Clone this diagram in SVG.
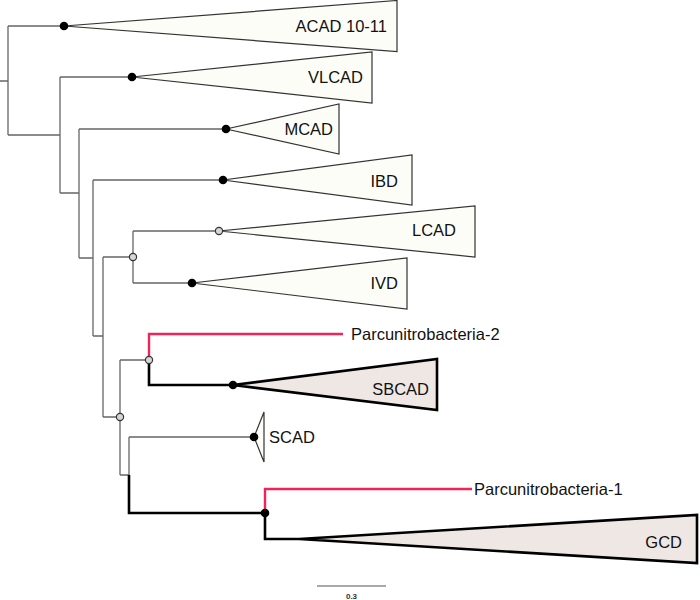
<svg xmlns="http://www.w3.org/2000/svg" width="700" height="600" viewBox="0 0 700 600">
<style>
.br{fill:none;stroke:#666;stroke-width:1.3}
.thick{fill:none;stroke:#000;stroke-width:2.6}
.red{fill:none;stroke:#f0245a;stroke-width:2.4}
.tri{fill:#fdfdf7;stroke:#333;stroke-width:1.2}
.tri2{fill:#efe7e4;stroke:#000;stroke-width:2.6;stroke-linejoin:miter}
.lab{font-family:"Liberation Sans",Arial,sans-serif;font-size:16.5px;fill:#111}
.dot{fill:#000}
.open{fill:#d6d6d6;stroke:#333;stroke-width:1.2}
</style>
<rect width="700" height="600" fill="#fff"/>
<g id="connectors">
<path class="br" d="M0,81H8M8,26V135M8,26H64M8,135H60M60,77V193M60,77H132M60,193H79M79,129V258M79,129H226M79,258H93M93,180V336M93,180H223M93,336H103M103,257V417M103,257H133M133,231V283M133,231H219M133,283H192M103,417H120M120,360V475M120,360H149M120,475H129M129,437V475M129,437H254"/>
<path class="thick" d="M129,475V513H265M149,360V385H233M265,513V539H299"/>
<path class="red" d="M149,360V334H343M265,513V489H472"/>
</g>
<g id="acad1011"><polygon class="tri" points="64,26 397,0.5 397,51.5"/><circle class="dot" cx="64" cy="26" r="4.3"/><text class="lab" x="387" y="32" text-anchor="end">ACAD 10-11</text></g>
<g id="vlcad"><polygon class="tri" points="132,77 372,52 372,103"/><circle class="dot" cx="132" cy="77" r="4.3"/><text class="lab" x="363" y="83" text-anchor="end">VLCAD</text></g>
<g id="mcad"><polygon class="tri" points="226,129 339,104 339,154"/><circle class="dot" cx="226" cy="129" r="4.3"/><text class="lab" x="333" y="135" text-anchor="end">MCAD</text></g>
<g id="ibd"><polygon class="tri" points="223,180 412,155 412,205"/><circle class="dot" cx="223" cy="180" r="4.3"/><text class="lab" x="398" y="187" text-anchor="end">IBD</text></g>
<g id="lcad"><polygon class="tri" points="219,231 475,206 475,257"/><circle class="open" cx="219" cy="231" r="3.6"/><text class="lab" x="456" y="236" text-anchor="end">LCAD</text></g>
<g id="ivd"><polygon class="tri" points="192,283 407,258 407,309"/><circle class="dot" cx="192" cy="283" r="4.3"/><text class="lab" x="398" y="289" text-anchor="end">IVD</text></g>
<g id="n_lcad_ivd"><circle class="open" cx="133" cy="257" r="3.6"/></g>
<g id="parcu2"><text class="lab" x="351" y="340">Parcunitrobacteria-2</text></g>
<g id="sbcad"><polygon class="tri2" points="233,385 437,359 437,410"/><circle class="dot" cx="233" cy="385" r="4.3"/><text class="lab" x="429" y="395" text-anchor="end">SBCAD</text></g>
<g id="n_sbcad"><circle class="open" cx="149" cy="360" r="3.6"/></g>
<g id="n_lower"><circle class="open" cx="120" cy="417" r="3.6"/></g>
<g id="scad"><polygon class="tri" points="254,437 264,412 264,462"/><circle class="dot" cx="254" cy="437" r="4.3"/><text class="lab" x="269" y="443">SCAD</text></g>
<g id="parcu1"><text class="lab" x="474" y="495">Parcunitrobacteria-1</text></g>
<g id="gcd"><polygon class="tri2" points="299,539 697,515 697,563"/><text class="lab" x="682" y="548" text-anchor="end">GCD</text></g>
<g id="n_gcd"><circle class="dot" cx="265" cy="513" r="4.3"/></g>
<g id="scalebar"><path d="M317,586H386" stroke="#555" stroke-width="1.2"/><text x="351.5" y="599" text-anchor="middle" style="font-family:'Liberation Sans',Arial,sans-serif;font-size:8px;font-weight:bold;fill:#333">0.3</text></g>
</svg>
